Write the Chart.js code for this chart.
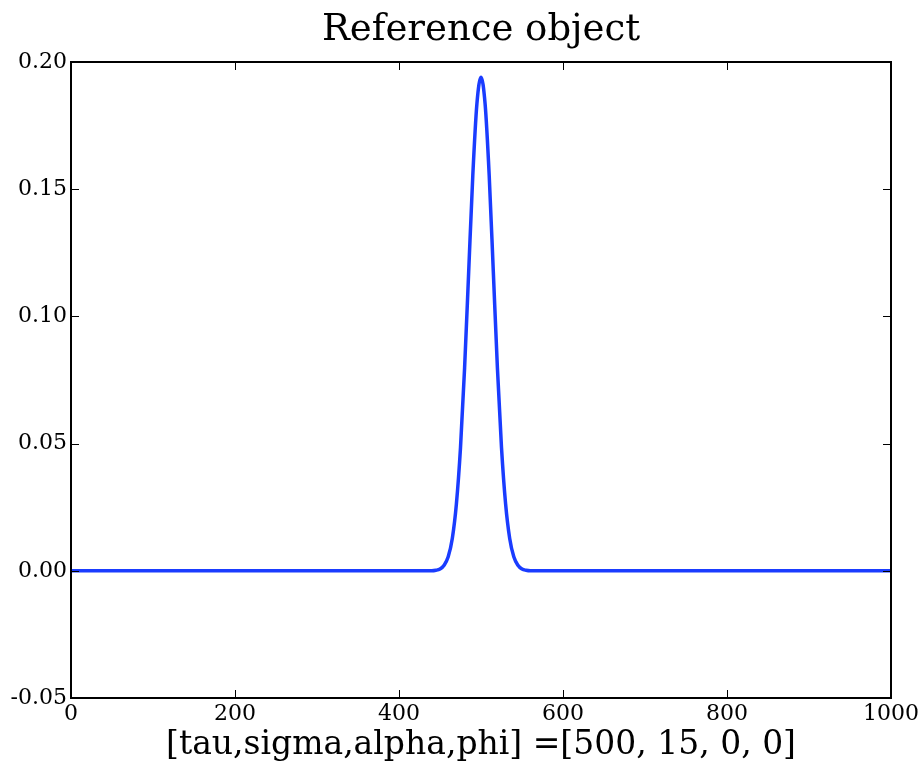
<!DOCTYPE html>
<html>
<head>
<meta charset="utf-8">
<title>Reference object</title>
<script src="https://cdn.jsdelivr.net/npm/chart.js@4/dist/chart.umd.min.js"></script>
<style>
  body { margin: 0; background: #fff; }
  #chart { display: block; }
</style>
</head>
<body>
<canvas id="chart" width="924" height="766"></canvas>
<script>
// values (peak near 500)
const xValues = [0, 440, 445, 450, 455, 460, 465, 470, 475, 480, 485, 490, 495, 500,
                 505, 510, 515, 520, 525, 530, 535, 540, 545, 550, 555, 560, 1000];
const yValues = [0, 0, 0.0002, 0.0007, 0.0022, 0.0055, 0.0127, 0.0263, 0.0484, 0.0798, 0.1177, 0.1554, 0.1835, 0.194,
                 0.1835, 0.1554, 0.1177, 0.0798, 0.0484, 0.0263, 0.0127, 0.0055, 0.0022, 0.0007, 0.0002, 0, 0];

const xTicks = [0, 200, 400, 600, 800, 1000];
const yTicks = [-0.05, 0, 0.05, 0.10, 0.15, 0.20];

const titleText = 'Reference object';
const xLabel = '[tau,sigma,alpha,phi] =[500, 15, 0, 0]';

const serif = "'DejaVu Serif', serif";

// frame + inward ticks on all four sides, title centred over the plot
const frameTicks = {
    id: 'frameTicks',
    afterDraw(chart) {
        const { ctx, chartArea: a, scales } = chart;
        const len = 8;
        ctx.save();
        ctx.strokeStyle = '#000';
        ctx.lineWidth = 1;
        ctx.beginPath();
        xTicks.forEach(v => {
            const px = Math.round(scales.x.getPixelForValue(v)) + 0.5;
            ctx.moveTo(px, a.bottom); ctx.lineTo(px, a.bottom - len);
            ctx.moveTo(px, a.top); ctx.lineTo(px, a.top + len);
        });
        yTicks.forEach(v => {
            const py = Math.round(scales.y.getPixelForValue(v)) + 0.5;
            ctx.moveTo(a.left, py); ctx.lineTo(a.left + len, py);
            ctx.moveTo(a.right, py); ctx.lineTo(a.right - len, py);
        });
        ctx.stroke();
        ctx.lineWidth = 2;
        ctx.strokeRect(a.left, a.top, a.right - a.left, a.bottom - a.top);

        ctx.fillStyle = '#000';
        ctx.font = '37px ' + serif;
        ctx.textAlign = 'center';
        ctx.textBaseline = 'middle';
        ctx.fillText(titleText, (a.left + a.right) / 2, 30);
        ctx.restore();
    }
};

const points = xValues.map((x, i) => ({ x: x, y: yValues[i] }));

new Chart(document.getElementById('chart'), {
    type: 'line',
    data: {
        datasets: [{
            data: points,
            borderColor: '#1a3cff',
            borderWidth: 3.5,
            pointRadius: 0,
            fill: false,
            cubicInterpolationMode: 'monotone'
        }]
    },
    options: {
        responsive: false,
        animation: false,
        layout: { padding: { left: 0, right: 33, top: 62, bottom: 0 } },
        plugins: {
            legend: { display: false },
            tooltip: { enabled: false },
            title: { display: false }
        },
        scales: {
            x: {
                type: 'linear',
                min: 0,
                max: 1000,
                afterFit: s => { s.height = 68; },
                afterBuildTicks: s => { s.ticks = xTicks.map(v => ({ value: v })); },
                grid: { display: false, drawTicks: false },
                border: { display: false },
                ticks: {
                    color: '#000',
                    padding: 3,
                    maxRotation: 0,
                    font: { family: serif, size: 22 },
                    callback: v => String(v)
                },
                title: {
                    display: true,
                    text: xLabel,
                    color: '#000',
                    font: { family: serif, size: 33 },
                    padding: { top: 0, bottom: 1 }
                }
            },
            y: {
                min: -0.05,
                max: 0.2,
                afterFit: s => { s.width = 71; },
                afterBuildTicks: s => { s.ticks = yTicks.map(v => ({ value: v })); },
                grid: { display: false, drawTicks: false },
                border: { display: false },
                ticks: {
                    color: '#000',
                    padding: 4,
                    font: { family: serif, size: 22 },
                    callback: v => v.toFixed(2)
                }
            }
        }
    },
    plugins: [frameTicks]
});
</script>
</body>
</html>
